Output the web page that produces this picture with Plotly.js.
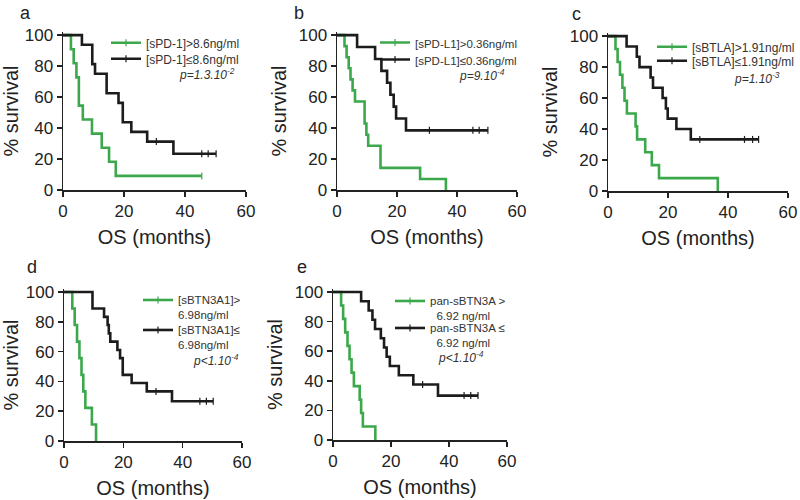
<!DOCTYPE html>
<html>
<head>
<meta charset="utf-8">
<script src="https://cdn.plot.ly/plotly-3.0.1.min.js"></script>
<style>
  html, body { margin: 0; padding: 0; background: #fff; }
  #chart { width: 800px; height: 500px; }
</style>
</head>
<body>
<div id="chart"></div>
<script>
// survival curves: event times (months) and % survival after each event
const aGreenT = [0, 2.6, 3.5, 4.4, 5.2, 6.5, 9.5, 12.7, 15.1, 17.3];
const aGreenS = [100, 90.9, 81.8, 72.7, 54.5, 45.5, 36.4, 27.3, 18.2, 9.1];
const aGreenCens = [45.5];
const aBlackT = [0, 6.2, 9.6, 10.5, 14.3, 18.2, 19.6, 22.4, 27.6, 36.2];
const aBlackS = [100, 93.75, 81.25, 75, 62.5, 56.25, 43.75, 37.5, 31.25, 23.4];
const aBlackCens = [30.6, 45.5, 47.6, 50.2];

const bGreenT = [0, 2.5, 3.2, 3.9, 4.5, 5.2, 6.0, 9.2, 9.8, 10.4, 14.5, 27.7, 36.3];
const bGreenS = [100, 92.9, 85.7, 78.6, 71.4, 64.3, 57.1, 42.9, 35.7, 28.6, 14.3, 7.1, 0];
const bGreenCens = [];
const bBlackT = [0, 6.7, 12.7, 14.8, 16.7, 17.8, 18.9, 19.7, 23.0];
const bBlackS = [100, 92.3, 84.6, 76.9, 69.2, 61.5, 53.8, 46.2, 38.5];
const bBlackCens = [30.8, 45.3, 47.4, 50.3];

const cGreenT = [0, 2.5, 3.2, 4.0, 4.8, 5.5, 6.3, 9.2, 9.7, 12.4, 14.6, 17.0, 36.6];
const cGreenS = [100, 91.7, 83.3, 75, 66.7, 58.3, 50, 41.7, 33.3, 25, 16.7, 8.3, 0];
const cGreenCens = [];
const cBlackT = [0, 6.2, 9.6, 10.5, 14.2, 15.0, 18.2, 19.3, 19.9, 22.8, 27.6];
const cBlackS = [100, 93.3, 86.7, 80, 73.3, 66.7, 60, 53.3, 46.7, 40, 33.3];
const cBlackCens = [30.6, 45.5, 48.2, 50.2];

const dGreenT = [0, 2.8, 3.6, 4.4, 5.2, 5.9, 6.5, 7.2, 9.4, 10.8];
const dGreenS = [100, 88.9, 77.8, 66.7, 55.6, 44.4, 33.3, 22.2, 11.1, 0];
const dGreenCens = [];
const dBlackT = [0, 9.6, 13.5, 14.7, 15.1, 15.6, 18.0, 18.9, 19.8, 22.8, 27.9, 36.4];
const dBlackS = [100, 88.9, 83.3, 77.8, 72.2, 66.7, 61.1, 55.6, 44.4, 38.9, 33.3, 26.7];
const dBlackCens = [31.0, 45.8, 48.0, 50.3];

const eGreenT = [0, 2.8, 3.5, 4.2, 5.0, 5.7, 6.4, 7.2, 9.2, 9.7, 10.3, 14.6];
const eGreenS = [100, 90.9, 81.8, 72.7, 63.6, 54.5, 45.5, 36.4, 27.3, 18.2, 9.1, 0];
const eGreenCens = [];
const eBlackT = [0, 9.7, 12.3, 13.6, 14.5, 16.5, 17.6, 18.5, 19.6, 22.7, 27.7, 36.2];
const eBlackS = [100, 93.75, 87.5, 81.25, 75, 68.75, 62.5, 56.25, 50, 43.75, 37.5, 30];
const eBlackCens = [30.9, 45.2, 47.5, 50.0];

const letters = ['a', 'b', 'c', 'd', 'e'];
const greenLabels = ['[sPD-1]>8.6ng/ml', '[sPD-L1]>0.36ng/ml', '[sBTLA]>1.91ng/ml',
    '[sBTN3A1]><br>6.98ng/ml', 'pan-sBTN3A ><br>&nbsp;&nbsp;6.92 ng/ml'];
const blackLabels = ['[sPD-1]≤8.6ng/ml', '[sPD-L1]≤0.36ng/ml', '[sBTLA]≤1.91ng/ml',
    '[sBTN3A1]≤<br>6.98ng/ml', 'pan-sBTN3A ≤<br>&nbsp;&nbsp;6.92 ng/ml'];
const pValues = ['p=1.3.10<sup>-2</sup>', 'p=9.10<sup>-4</sup>', 'p=1.10<sup>-3</sup>',
    'p&lt;1.10<sup>-4</sup>', 'p&lt;1.10<sup>-4</sup>'];

const groups = [
    [aGreenT, aGreenS, aGreenCens, aBlackT, aBlackS, aBlackCens],
    [bGreenT, bGreenS, bGreenCens, bBlackT, bBlackS, bBlackCens],
    [cGreenT, cGreenS, cGreenCens, cBlackT, cBlackS, cBlackCens],
    [dGreenT, dGreenS, dGreenCens, dBlackT, dBlackS, dBlackCens],
    [eGreenT, eGreenS, eGreenCens, eBlackT, eBlackS, eBlackCens],
];

const GREEN = '#3ca84c';
const BLACK = '#1c1c1c';
const FONT = 'Liberation Sans, Arial, Helvetica, sans-serif';

// plot areas in pixels [left, right, bottom, top(=102%)]
const boxes = [
    [63, 246, 190, 32], [337, 517, 190, 32], [608, 788, 191, 33],
    [64, 242, 441, 289], [333, 507, 440, 289],
];
// legend boxes: [left, top of green entry, top of black entry, font size]
const legendPos = [[106, 28.5, 44.5, 12], [375, 28.5, 45.5, 11.5], [652, 32.5, 46.5, 12],
    [138, 286, 316, 11.5], [390, 287, 314, 11.5]];
const pPos = [[237, 74], [507, 75], [782, 78], [241, 360], [486, 357]];
const letterPos = [[25, 13], [299, 13], [576, 14], [32, 267], [302, 267]];

function stepValue(t, times, surv) {
    let v = surv[0];
    for (let i = 0; i < times.length; i++) if (times[i] <= t) v = surv[i];
    return v;
}

function curve(times, surv, cens, color, ax) {
    const pts = times.map((t, i) => [t, surv[i]]);
    cens.forEach(c => pts.push([c, stepValue(c, times, surv)]));
    pts.sort((p, q) => p[0] - q[0]);
    return [{
        x: pts.map(p => p[0]), y: pts.map(p => p[1]),
        type: 'scatter', mode: 'lines', line: { color: color, width: 2.6, shape: 'hv' },
        xaxis: 'x' + ax, yaxis: 'y' + ax, showlegend: false, hoverinfo: 'skip',
    }, {
        x: cens, y: cens.map(c => stepValue(c, times, surv)),
        type: 'scatter', mode: 'markers',
        marker: { symbol: 'line-ns', size: 5, line: { color: color, width: 1.2 } },
        xaxis: 'x' + ax, yaxis: 'y' + ax, showlegend: false, hoverinfo: 'skip', cliponaxis: false,
    }];
}

const traces = [];
const layout = {
    width: 800, height: 500,
    margin: { l: 0, r: 0, t: 0, b: 0 },
    paper_bgcolor: '#fff', plot_bgcolor: '#fff',
    font: { family: FONT, color: '#222' },
    annotations: [],
};

groups.forEach((g, i) => {
    const ax = i === 0 ? '' : String(i + 1);
    traces.push(...curve(g[0], g[1], g[2], GREEN, ax));
    traces.push(...curve(g[3], g[4], g[5], BLACK, ax));
    // one small legend per entry, line with a tick like the censor mark
    [[greenLabels[i], GREEN, 1], [blackLabels[i], BLACK, 2]].forEach(([name, color, k]) => {
        const n = 2 * i + k;
        const lg = n === 1 ? 'legend' : 'legend' + n;
        traces.push({
            x: [null], y: [null], type: 'scatter', mode: 'lines+markers', name: name,
            line: { color: color, width: 2.6 },
            marker: { symbol: 'line-ns', size: 5, line: { color: color, width: 1.2 } },
            xaxis: 'x' + ax, yaxis: 'y' + ax, legend: lg,
        });
        layout[lg] = {
            x: legendPos[i][0] / 800, y: 1 - legendPos[i][k] / 500, xanchor: 'left', yanchor: 'top',
            bgcolor: 'rgba(0,0,0,0)', borderwidth: 0, itemwidth: 30, valign: 'top',
            font: { size: legendPos[i][3], color: '#333', family: FONT },
        };
    });

    const b = boxes[i];
    layout['xaxis' + ax] = {
        domain: [b[0] / 800, b[1] / 800], anchor: 'y' + ax, range: [0, 60],
        tickvals: [0, 20, 40, 60], ticks: 'outside', ticklen: 5, tickwidth: 1.5, tickcolor: '#222',
        showline: true, linewidth: 1.5, linecolor: '#222', showgrid: false, zeroline: false,
        tickfont: { size: 17 }, fixedrange: true,
        title: { text: 'OS (months)', font: { size: 20 }, standoff: 10 },
    };
    layout['yaxis' + ax] = {
        domain: [1 - b[2] / 500, 1 - b[3] / 500], anchor: 'x' + ax, range: [0, 102],
        tickvals: [0, 20, 40, 60, 80, 100], ticks: 'outside', ticklen: 5, tickwidth: 1.5, tickcolor: '#222',
        showline: true, linewidth: 1.5, linecolor: '#222', showgrid: false, zeroline: false,
        tickfont: { size: 17 }, fixedrange: true,
        title: { text: '% survival', font: { size: 20 }, standoff: 6 },
    };
    layout.annotations.push({
        text: '<i>' + pValues[i] + '</i>', xref: 'paper', yref: 'paper',
        x: pPos[i][0] / 800, y: 1 - pPos[i][1] / 500, xanchor: 'right', yanchor: 'middle',
        showarrow: false, font: { size: 12, color: '#333' },
    });
    layout.annotations.push({
        text: letters[i], xref: 'paper', yref: 'paper',
        x: letterPos[i][0] / 800, y: 1 - letterPos[i][1] / 500, xanchor: 'center', yanchor: 'middle',
        showarrow: false, font: { size: 18, color: '#222' },
    });
});

Plotly.newPlot('chart', traces, layout, { displayModeBar: false, staticPlot: true });
</script>
</body>
</html>
